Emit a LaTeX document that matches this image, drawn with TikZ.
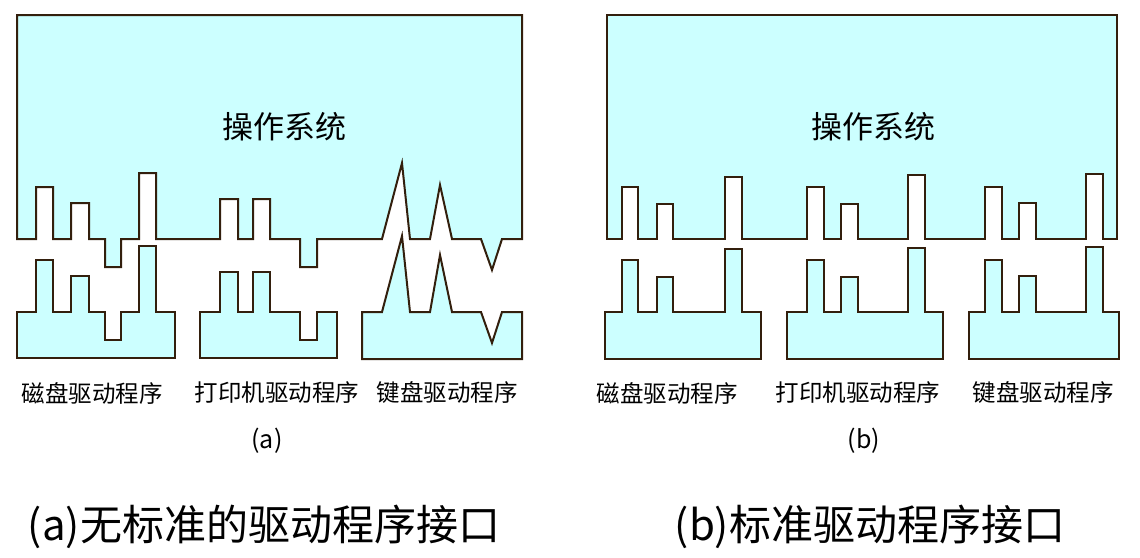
\documentclass[tikz,border=0pt]{standalone}
\usepackage{fontspec}
\usepackage{xcolor}
\usepackage{tikz}
\newfontfamily\cjk{Noto Sans CJK SC}
\definecolor{shapefill}{HTML}{CCFFFF}
\definecolor{shapeline}{rgb}{0.2,0.12,0.05}

\begin{document}
\begin{tikzpicture}[
    x=1pt, y=-1pt,
    part/.style={fill=shapefill, draw=shapeline, line width=2pt, line join=miter},
    title/.style={font=\cjk\fontsize{31}{31}\selectfont, inner sep=0pt},
    drvlabel/.style={font=\cjk\fontsize{23.5}{24}\selectfont, inner sep=0pt},
    sublabel/.style={font=\cjk\fontsize{25}{26}\selectfont, inner sep=0pt},
    caption/.style={font=\cjk\fontsize{42}{42}\selectfont, inner sep=0pt},
  ]
  \useasboundingbox (0,0) rectangle (1140,557);

  % (a) operating system, one socket per driver
  \draw[part] (17,15) -- (522,15) -- (522,239) -- (502,239) -- (492,270) -- (481,239)
    -- (452,239) -- (440,185) -- (430,239) -- (410,239) -- (402,163) -- (382,239)
    -- (317,239) -- (317,267) -- (300,267) -- (300,239) -- (270,239) -- (270,199)
    -- (253,199) -- (253,239) -- (238,239) -- (238,199) -- (220,199) -- (220,239)
    -- (156,239) -- (156,173) -- (139,173) -- (139,239) -- (121,239) -- (121,267)
    -- (105,267) -- (105,239) -- (89,239) -- (89,203) -- (71,203) -- (71,239)
    -- (53,239) -- (53,187) -- (36,187) -- (36,239) -- (17,239) -- cycle;
  \node[title] (osa) at (284,127) {操作系统};

  % (a) drivers
  \draw[part] (17,312) -- (36,312) -- (36,260) -- (53,260) -- (53,312) -- (71,312)
    -- (71,276) -- (89,276) -- (89,312) -- (105,312) -- (105,340) -- (121,340)
    -- (121,312) -- (139,312) -- (139,246) -- (156,246) -- (156,312) -- (175,312)
    -- (175,358) -- (17,358) -- cycle;
  \draw[part] (200,312) -- (220,312) -- (220,272) -- (238,272) -- (238,312) -- (253,312)
    -- (253,272) -- (270,272) -- (270,312) -- (300,312) -- (300,340) -- (317,340)
    -- (317,312) -- (337,312) -- (337,358) -- (200,358) -- cycle;
  \draw[part] (362,312) -- (382,312) -- (402,236) -- (410,312) -- (430,312) -- (440,255)
    -- (452,312) -- (481,312) -- (492,343) -- (502,312) -- (522,312) -- (522,359)
    -- (362,359) -- cycle;

  \node[drvlabel] (diska) at (92,393) {磁盘驱动程序};
  \node[drvlabel] (printa) at (277,393) {打印机驱动程序};
  \node[drvlabel] (keya) at (447,393) {键盘驱动程序};
  \node[sublabel] (suba) at (267,441) {(a)};

  % (b) operating system, same socket for every driver
  \draw[part] (607,15) -- (1117,15) -- (1117,239) -- (1103,239) -- (1103,174) -- (1086,174)
    -- (1086,239) -- (1036,239) -- (1036,203) -- (1019,203) -- (1019,239) -- (1002,239)
    -- (1002,187) -- (985,187) -- (985,239) -- (925,239) -- (925,175) -- (908,175)
    -- (908,239) -- (858,239) -- (858,204) -- (841,204) -- (841,239) -- (824,239)
    -- (824,187) -- (807,187) -- (807,239) -- (742,239) -- (742,177) -- (725,177)
    -- (725,239) -- (673,239) -- (673,204) -- (657,204) -- (657,239) -- (638,239)
    -- (638,187) -- (622,187) -- (622,239) -- (607,239) -- cycle;
  \node[title] (osb) at (873,127) {操作系统};

  % (b) drivers
  \draw[part] (605,312) -- (622,312) -- (622,260) -- (638,260) -- (638,312) -- (657,312)
    -- (657,277) -- (673,277) -- (673,312) -- (725,312) -- (725,249) -- (742,249)
    -- (742,312) -- (761,312) -- (761,359) -- (605,359) -- cycle;
  \draw[part] (787,312) -- (807,312) -- (807,260) -- (824,260) -- (824,312) -- (841,312)
    -- (841,277) -- (858,277) -- (858,312) -- (908,312) -- (908,248) -- (925,248)
    -- (925,312) -- (943,312) -- (943,359) -- (787,359) -- cycle;
  \draw[part] (969,312) -- (985,312) -- (985,260) -- (1002,260) -- (1002,312) -- (1019,312)
    -- (1019,276) -- (1036,276) -- (1036,312) -- (1086,312) -- (1086,247) -- (1103,247)
    -- (1103,312) -- (1119,312) -- (1119,359) -- (969,359) -- cycle;

  \node[drvlabel] (diskb) at (667,393) {磁盘驱动程序};
  \node[drvlabel] (printb) at (858,393) {打印机驱动程序};
  \node[drvlabel] (keyb) at (1043,393) {键盘驱动程序};
  \node[sublabel] (subb) at (864,441) {(b)};

  % captions
  \node[caption] (capa) at (264,527) {(a)无标准的驱动程序接口};
  \node[caption] (capb) at (870,527) {(b)标准驱动程序接口};
\end{tikzpicture}
\end{document}
